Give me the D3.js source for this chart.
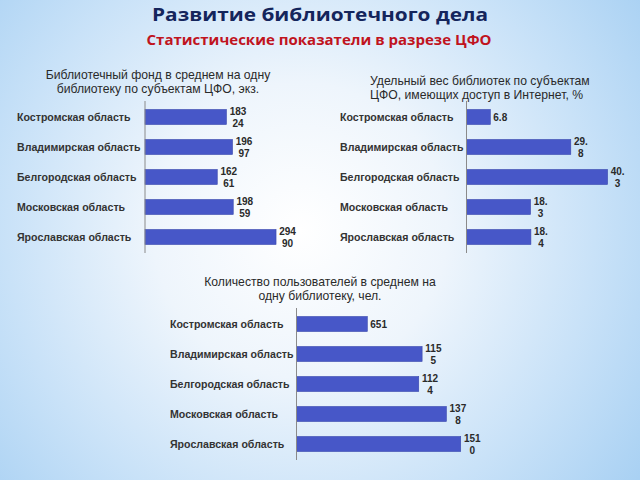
<!DOCTYPE html>
<html>
<head>
<meta charset="utf-8">
<script src="https://cdn.jsdelivr.net/npm/d3@7"></script>
<style>
  html, body { margin: 0; padding: 0; }
  body { width: 640px; height: 480px; overflow: hidden; }
</style>
</head>
<body>
<svg id="chart" width="640" height="480"></svg>
<script>
// ---- data ----
const regions = ["Костромская область", "Владимирская область", "Белгородская область", "Московская область", "Ярославская область"];
const fundValues = [18324, 19697, 16261, 19859, 29490];
const internetValues = [6.8, 29.8, 40.3, 18.3, 18.4];
const usersValues = [651, 1155, 1124, 1378, 1510];
const mainTitle = "Развитие библиотечного дела";
const subTitle = "Статистические показатели в разрезе ЦФО";
const fundTitle = ["Библиотечный фонд в среднем на одну", "библиотеку по субъектам ЦФО, экз."];
const internetTitle = ["Удельный вес библиотек по субъектам", "ЦФО, имеющих доступ в Интернет, %"];
const usersTitle = ["Количество пользователей в среднем на", "одну библиотеку, чел."];

const svg = d3.select("#chart");
const FONT = "'Liberation Sans', Arial, sans-serif";

// background
const defs = svg.append("defs");
const rg = defs.append("radialGradient").attr("id", "bg")
  .attr("gradientUnits", "userSpaceOnUse")
  .attr("cx", 300).attr("cy", 230).attr("r", 420)
  .attr("fx", 300).attr("fy", 230);
rg.append("stop").attr("offset", "0%").attr("stop-color", "#ffffff");
rg.append("stop").attr("offset", "35%").attr("stop-color", "#eef5fc");
rg.append("stop").attr("offset", "70%").attr("stop-color", "#c9e2f8");
rg.append("stop").attr("offset", "100%").attr("stop-color", "#a9d1f3");
svg.append("rect").attr("width", 640).attr("height", 480).attr("fill", "url(#bg)");

// headings
svg.append("text").attr("x", 320).attr("y", 21).attr("text-anchor", "middle")
  .attr("font-family", "'Open Sans', sans-serif").attr("font-weight", 700)
  .attr("font-size", 18).attr("fill", "#14255c")
  .attr("textLength", 336).attr("lengthAdjust", "spacingAndGlyphs")
  .text(mainTitle);
svg.append("text").attr("x", 319).attr("y", 45).attr("text-anchor", "middle")
  .attr("font-family", "'Open Sans', sans-serif").attr("font-weight", 700)
  .attr("font-size", 14).attr("fill", "#c0141e")
  .attr("textLength", 345).attr("lengthAdjust", "spacingAndGlyphs")
  .text(subTitle);

function drawChart(cfg) {
  const g = svg.append("g");
  const x = d3.scaleLinear().domain([0, cfg.max]).range([cfg.axisX, cfg.axisX + cfg.width]);
  const y = d3.scaleBand().domain(regions).range([cfg.top, cfg.bottom]).paddingInner(0.5).paddingOuter(0.25);

  // title
  const tt = g.append("text")
    .attr("font-family", FONT).attr("font-size", 12.2).attr("fill", "#2a2a2a")
    .attr("text-anchor", cfg.titleAnchor);
  cfg.title.forEach((line, i) => {
    tt.append("tspan").attr("x", cfg.titleX).attr("y", cfg.titleY + i * 13.5).text(line);
  });

  // bars
  g.selectAll("rect.bar").data(cfg.values).join("rect")
    .attr("class", "bar")
    .attr("x", x(0))
    .attr("y", (d, i) => y(regions[i]))
    .attr("width", d => x(d) - x(0))
    .attr("height", y.bandwidth())
    .attr("fill", "#4757c8")
    .attr("stroke", "#3a48ad").attr("stroke-width", 0.6);

  // axis line
  const ax = g.append("g").attr("transform", `translate(${x(0)},0)`)
    .call(d3.axisLeft(y).tickSize(0).tickFormat(""));
  ax.select(".domain").attr("stroke", "#8a8a8a").attr("stroke-width", 1)
    .attr("d", `M0,${cfg.top - 1}V${cfg.bottom + 1}`);

  // category labels (left aligned)
  g.selectAll("text.cat").data(regions).join("text")
    .attr("class", "cat")
    .attr("x", cfg.labelX)
    .attr("y", d => y(d) + y.bandwidth() / 2 + 3.8)
    .attr("font-family", FONT).attr("font-size", 10.6).attr("font-weight", 700)
    .attr("fill", "#333333")
    .text(d => d);

  // value labels (wrapped like the original)
  cfg.values.forEach((v, i) => {
    const s = String(v);
    const cy = y(regions[i]) + y.bandwidth() / 2;
    const xe = x(v);
    const t = g.append("text")
      .attr("font-family", FONT).attr("font-size", 10).attr("font-weight", 700)
      .attr("fill", "#2a2a2a");
    if (s.length <= 3) {
      t.attr("x", xe + 3).attr("y", cy + 3.5).text(s);
    } else {
      const a = s.slice(0, 3), b = s.slice(3);
      t.attr("text-anchor", "middle");
      t.append("tspan").text(a).attr("x", 0).attr("y", cy - 2);
      t.append("tspan").text(b).attr("x", 0).attr("y", cy + 10);
      const w = t.node().getBBox().width;
      t.selectAll("tspan").attr("x", xe + 3 + w / 2);
    }
  });
}

drawChart({ values: fundValues, title: fundTitle, max: 30000, axisX: 145, width: 133.3,
  top: 102, bottom: 252, labelX: 17, titleX: 158, titleY: 79, titleAnchor: "middle" });
drawChart({ values: internetValues, title: internetTitle, max: 45, axisX: 466.5, width: 157.5,
  top: 102, bottom: 252, labelX: 340, titleX: 370, titleY: 85, titleAnchor: "start" });
drawChart({ values: usersValues, title: usersTitle, max: 1600, axisX: 296.5, width: 174,
  top: 309, bottom: 459, labelX: 170, titleX: 320, titleY: 286, titleAnchor: "middle" });
</script>
</body>
</html>
